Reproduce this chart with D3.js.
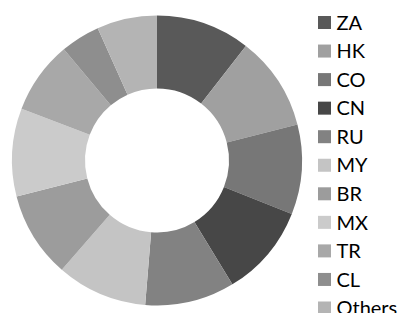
<!DOCTYPE html>
<html>
<head>
<meta charset="utf-8">
<script src="https://cdn.jsdelivr.net/npm/d3@7"></script>
<style>
  body { margin: 0; background: #fff; }
  svg { display: block; }
</style>
</head>
<body>
<div id="chart"></div>
<script>
// chart size
const width = 397;
const height = 313;

// share of each country (percent)
const countries = ["ZA", "HK", "CO", "CN", "RU", "MY", "BR", "MX", "TR", "CL", "Others"];
const shares = [10.5, 10.5, 10.0, 10.3, 10.0, 10.1, 9.6, 9.8, 8.1, 4.4, 6.7];
const greys = ["#595959", "#a0a0a0", "#777777", "#474747", "#828282", "#c4c4c4",
               "#9c9c9c", "#cbcbcb", "#a8a8a8", "#8e8e8e", "#b4b4b4"];

const data = countries.map((c, i) => ({ name: c, value: shares[i] }));

const color = d3.scaleOrdinal().domain(countries).range(greys);

const svg = d3.select("#chart")
  .append("svg")
  .attr("width", width)
  .attr("height", height);

// donut
const cx = 157, cy = 160.5;
const outerR = 145, innerR = 72;

const pie = d3.pie().sort(null).value((d) => d.value);
const arc = d3.arc().innerRadius(innerR).outerRadius(outerR);

svg.append("g")
  .attr("transform", `translate(${cx},${cy})`)
  .selectAll("path")
  .data(pie(data))
  .enter()
  .append("path")
  .attr("d", arc)
  .attr("fill", (d) => color(d.data.name));

// legend (last row runs off the bottom, as in the original)
const legendY = d3.scalePoint().domain(countries).range([22.5, 308]);

const legend = svg.append("g")
  .selectAll("g")
  .data(countries)
  .enter()
  .append("g")
  .attr("transform", (d) => `translate(318,${legendY(d)})`);

legend.append("rect")
  .attr("x", 0)
  .attr("y", -6.5)
  .attr("width", 13)
  .attr("height", 13)
  .attr("fill", (d) => color(d));

legend.append("text")
  .attr("x", 18.5)
  .attr("y", 0)
  .attr("dy", "0.36em")
  .style("font-family", "Lato, 'Open Sans', sans-serif")
  .style("font-size", "20px")
  .attr("fill", "#000")
  .text((d) => d);
</script>
</body>
</html>
